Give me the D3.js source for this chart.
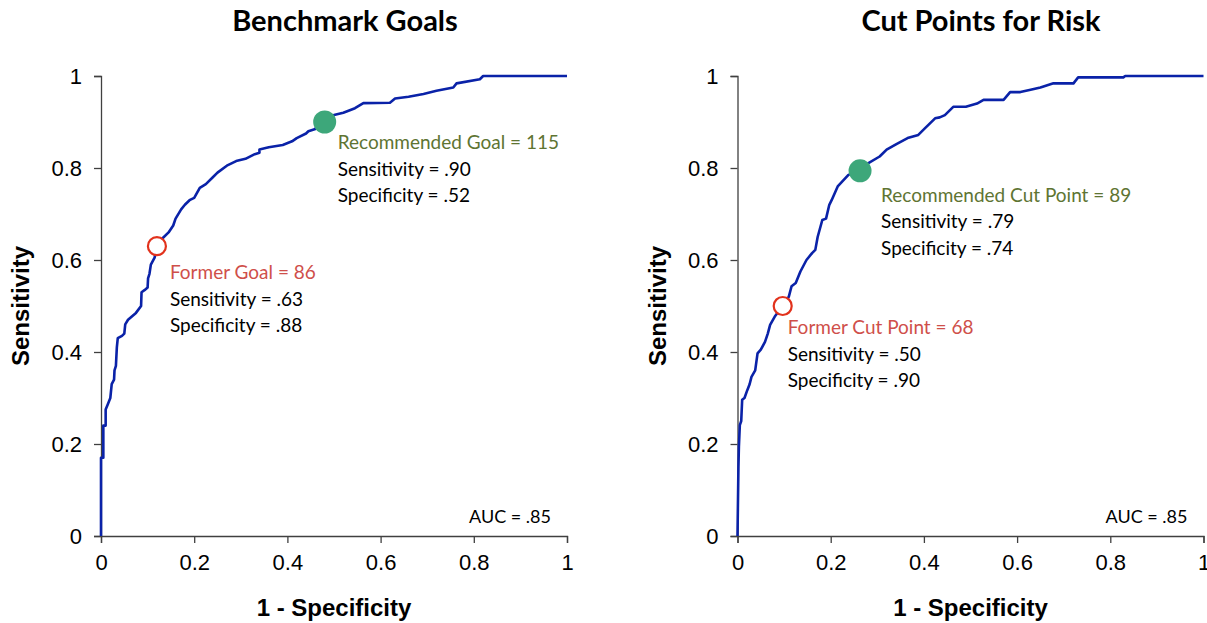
<!DOCTYPE html>
<html>
<head>
<meta charset="utf-8">
<script src="https://cdn.jsdelivr.net/npm/d3@7"></script>
<style>
  body { margin: 0; background: #fff; }
  svg text { font-family: "Liberation Sans", Arial, sans-serif; }
  .note { font-family: Lato, "Open Sans", sans-serif; }
</style>
</head>
<body>
<div id="chart"></div>
<script>
// ROC curve for benchmark goals (1 - specificity, sensitivity)
var benchFpr = [0, 0, 0.005, 0.005, 0.01, 0.01, 0.014, 0.02, 0.023, 0.028, 0.029, 0.032, 0.034, 0.036, 0.045, 0.05, 0.052, 0.058, 0.075, 0.086, 0.087, 0.094, 0.1, 0.101, 0.104, 0.107, 0.115, 0.12, 0.13, 0.145, 0.155, 0.16, 0.172, 0.18, 0.19, 0.2, 0.212, 0.225, 0.24, 0.25, 0.27, 0.29, 0.31, 0.33, 0.34, 0.34, 0.36, 0.39, 0.41, 0.42, 0.44, 0.445, 0.46, 0.462, 0.48, 0.5, 0.52, 0.545, 0.563, 0.62, 0.631, 0.66, 0.692, 0.72, 0.756, 0.763, 0.813, 0.82, 1];
var benchTpr = [0, 0.17, 0.17, 0.24, 0.24, 0.275, 0.285, 0.3, 0.33, 0.34, 0.36, 0.37, 0.41, 0.43, 0.435, 0.44, 0.46, 0.47, 0.485, 0.5, 0.53, 0.535, 0.54, 0.56, 0.57, 0.59, 0.605, 0.63, 0.645, 0.66, 0.675, 0.69, 0.71, 0.72, 0.73, 0.735, 0.757, 0.765, 0.78, 0.79, 0.805, 0.815, 0.82, 0.83, 0.833, 0.84, 0.845, 0.85, 0.858, 0.865, 0.875, 0.88, 0.885, 0.89, 0.9, 0.915, 0.92, 0.93, 0.941, 0.942, 0.951, 0.955, 0.961, 0.968, 0.975, 0.984, 0.993, 1, 1];

// ROC curve for risk cut points
var riskFpr = [0, 0.002, 0.003, 0.005, 0.008, 0.01, 0.015, 0.021, 0.026, 0.03, 0.038, 0.043, 0.05, 0.059, 0.065, 0.07, 0.08, 0.097, 0.11, 0.116, 0.125, 0.135, 0.148, 0.16, 0.167, 0.172, 0.182, 0.19, 0.197, 0.202, 0.215, 0.238, 0.263, 0.28, 0.305, 0.32, 0.341, 0.365, 0.388, 0.402, 0.424, 0.434, 0.445, 0.463, 0.49, 0.514, 0.528, 0.571, 0.585, 0.607, 0.629, 0.65, 0.678, 0.721, 0.731, 0.828, 0.832, 1];
var riskTpr = [0, 0.15, 0.194, 0.241, 0.25, 0.296, 0.3, 0.317, 0.33, 0.346, 0.36, 0.397, 0.405, 0.422, 0.44, 0.459, 0.477, 0.5, 0.52, 0.543, 0.55, 0.575, 0.6, 0.615, 0.622, 0.65, 0.687, 0.69, 0.72, 0.73, 0.76, 0.785, 0.794, 0.81, 0.825, 0.84, 0.852, 0.865, 0.872, 0.886, 0.908, 0.91, 0.915, 0.933, 0.933, 0.94, 0.948, 0.948, 0.965, 0.965, 0.97, 0.975, 0.984, 0.984, 0.997, 0.997, 1, 1];

var tickValues = [0, 0.2, 0.4, 0.6, 0.8, 1];
var tickLabels = ["0", "0.2", "0.4", "0.6", "0.8", "1"];

var titles = ["Benchmark Goals", "Cut Points for Risk"];
var aucLabels = ["AUC = .85", "AUC = .85"];

// marked points: [fpr, tpr]
var benchRecommended = [0.48, 0.90];
var benchFormer = [0.12, 0.63];
var riskRecommended = [0.263, 0.794];
var riskFormer = [0.097, 0.50];

var benchRecText = ["Recommended Goal = 115", "Sensitivity = .90", "Specificity = .52"];
var benchFormerText = ["Former Goal = 86", "Sensitivity = .63", "Specificity = .88"];
var riskRecText = ["Recommended Cut Point = 89", "Sensitivity = .79", "Specificity = .74"];
var riskFormerText = ["Former Cut Point = 68", "Sensitivity = .50", "Specificity = .90"];

var width = 1207, height = 623;

var svg = d3.select("#chart").append("svg")
    .attr("width", width)
    .attr("height", height);

var panels = [
  { left: 101, fpr: benchFpr, tpr: benchTpr, title: titles[0], titleX: 345, auc: aucLabels[0],
    notes: [
      { pt: benchRecommended, text: benchRecText, kind: "rec", dx: 13, dy: 27 },
      { pt: benchFormer, text: benchFormerText, kind: "former", dx: 13, dy: 33 }
    ] },
  { left: 737.5, fpr: riskFpr, tpr: riskTpr, title: titles[1], titleX: 981, auc: aucLabels[1],
    notes: [
      { pt: riskRecommended, text: riskRecText, kind: "rec", dx: 21, dy: 31 },
      { pt: riskFormer, text: riskFormerText, kind: "former", dx: 5, dy: 28 }
    ] }
];

var plotW = 466, plotTop = 76, plotBottom = 536;

panels.forEach(function(p) {
  var x = d3.scaleLinear().domain([0, 1]).range([p.left, p.left + plotW]);
  var y = d3.scaleLinear().domain([0, 1]).range([plotBottom, plotTop]);

  var xAxis = svg.append("g")
      .attr("transform", "translate(0," + plotBottom + ")")
      .call(d3.axisBottom(x).tickValues(tickValues)
        .tickFormat(function(d, i) { return tickLabels[i]; })
        .tickSize(7).tickPadding(11));
  var yAxis = svg.append("g")
      .attr("transform", "translate(" + p.left + ",0)")
      .call(d3.axisLeft(y).tickValues(tickValues)
        .tickFormat(function(d, i) { return tickLabels[i]; })
        .tickSize(7).tickPadding(12));

  [xAxis, yAxis].forEach(function(a) {
    a.select(".domain").attr("stroke", "#404040").attr("stroke-width", 1.3);
    a.selectAll(".tick line").attr("stroke", "#404040").attr("stroke-width", 1.3);
    a.selectAll(".tick text")
      .attr("fill", "#000")
      .style("font-size", "22px")
      .style("font-family", "'Liberation Sans', Arial, sans-serif");
  });
  yAxis.selectAll(".tick text").attr("dy", "0.35em");

  var line = d3.line()
      .x(function(d) { return x(d[0]); })
      .y(function(d) { return y(d[1]); });

  var pts = p.fpr.map(function(f, i) { return [f, p.tpr[i]]; });

  svg.append("path")
      .datum(pts)
      .attr("d", line)
      .attr("fill", "none")
      .attr("stroke", "#0a22a8")
      .attr("stroke-width", 2.6)
      .attr("stroke-linejoin", "round");

  // title
  svg.append("text")
      .attr("x", p.titleX)
      .attr("y", 31)
      .attr("text-anchor", "middle")
      .attr("class", "note")
      .style("font-weight", "bold")
      .style("font-size", "29px")
      .text(p.title);

  svg.append("text")
      .attr("x", p.left + plotW / 2)
      .attr("y", 616)
      .attr("text-anchor", "middle")
      .style("font-weight", "bold")
      .style("font-size", "24px")
      .text("1 - Specificity");

  svg.append("text")
      .attr("transform", "translate(" + (p.left - 72) + "," + ((plotTop + plotBottom) / 2) + ") rotate(-90)")
      .attr("text-anchor", "middle")
      .style("font-weight", "bold")
      .style("font-size", "24px")
      .text("Sensitivity");

  svg.append("text")
      .attr("x", p.left + plotW - 16)
      .attr("y", 523)
      .attr("text-anchor", "end")
      .attr("class", "note")
      .style("font-size", "18px")
      .text(p.auc);

  p.notes.forEach(function(n) {
    var cx = x(n.pt[0]), cy = y(n.pt[1]);
    if (n.kind == "rec") {
      svg.append("circle").attr("cx", cx).attr("cy", cy).attr("r", 11.5)
        .attr("fill", "#3da77a");
    } else {
      svg.append("circle").attr("cx", cx).attr("cy", cy).attr("r", 9)
        .attr("fill", "#fff").attr("stroke", "#e2321c").attr("stroke-width", 2.2);
    }
    var t = svg.append("text")
        .attr("class", "note")
        .style("font-size", "19px");
    n.text.forEach(function(s, i) {
      t.append("tspan")
        .attr("x", cx + n.dx)
        .attr("y", cy + n.dy + i * 26.5)
        .attr("fill", i == 0 ? (n.kind == "rec" ? "#5e7432" : "#cf4f4a") : "#000")
        .text(s);
    });
  });
});
</script>
</body>
</html>
